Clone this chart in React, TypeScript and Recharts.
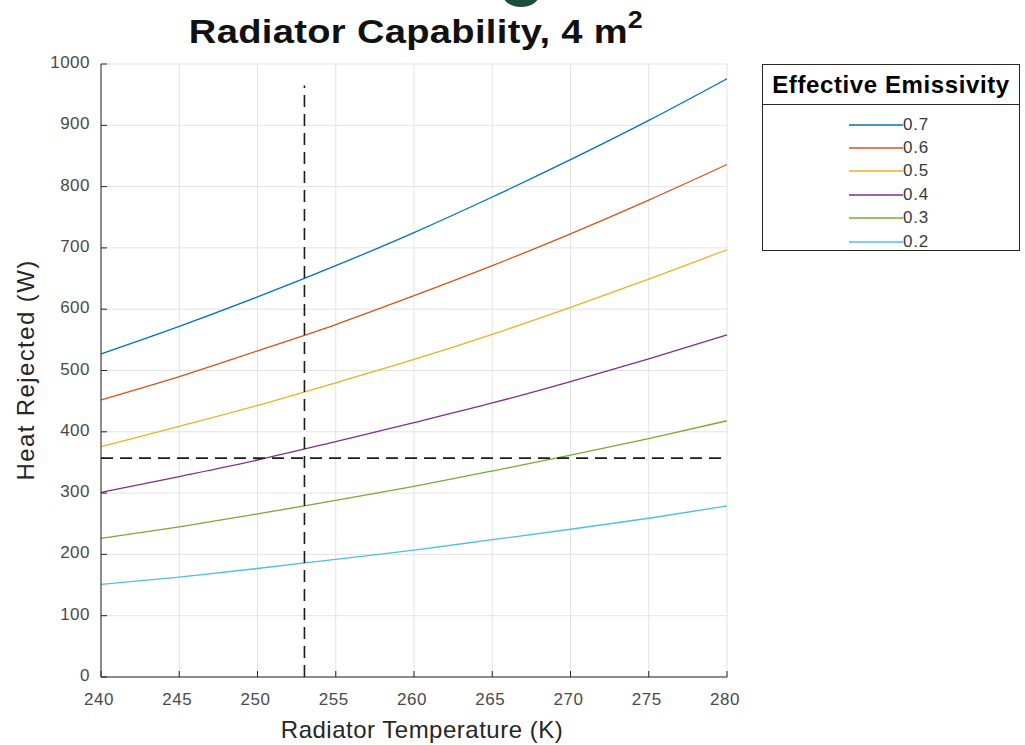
import React from 'react'
import {
  LineChart, Line, XAxis, YAxis, CartesianGrid, ReferenceLine,
} from 'recharts'

// radiator temperature (K)
const temps = [240, 245, 250, 255, 260, 265, 270, 275, 280]

// heat rejected (W), one list per emissivity
const e07 = [527, 572, 620, 671, 725, 783, 844, 908, 976]
const e06 = [452, 490, 532, 575, 622, 671, 723, 778, 836]
const e05 = [376, 409, 443, 480, 518, 559, 603, 649, 697]
const e04 = [301, 327, 354, 384, 415, 447, 482, 519, 558]
const e03 = [226, 245, 266, 288, 311, 336, 362, 389, 418]
const e02 = [151, 163, 177, 192, 207, 224, 241, 259, 279]

const emissivities = ['0.7', '0.6', '0.5', '0.4', '0.3', '0.2']
const seriesValues = [e07, e06, e05, e04, e03, e02]
const colors = ['#0072BD', '#D95319', '#EDB120', '#7E2F8E', '#77AC30', '#4DBEEE']

const xTicks = [240, 245, 250, 255, 260, 265, 270, 275, 280]
const yTicks = [0, 100, 200, 300, 400, 500, 600, 700, 800, 900, 1000]

// design point (dashed guides)
const designTemp = 253
const designHeat = 357
const guideTop = 965

const data = temps.map((t, i) => {
  const row: Record<string, number> = { T: t }
  emissivities.forEach((e, k) => { row[e] = seriesValues[k][i] })
  return row
})

const FONT = '"Liberation Sans", Arial, Helvetica, sans-serif'
const AXIS = '#262626'
const TICK_LEN = 6

const BottomTick = (props: any) => {
  const { x, y, payload } = props
  return (
    <g>
      <line x1={x} y1={y} x2={x} y2={y - TICK_LEN} stroke={AXIS} />
      <text x={x - 2} y={y + 28} textAnchor="middle" fontSize={17} letterSpacing={0.5}
        fill="#4a4a4a" fontFamily={FONT}>
        {payload.value}
      </text>
    </g>
  )
}

const TopTick = (props: any) => {
  const { x, y } = props
  return <line x1={x} y1={y} x2={x} y2={y + TICK_LEN} stroke={AXIS} />
}

const LeftTick = (props: any) => {
  const { x, y, payload } = props
  return (
    <g>
      <line x1={x} y1={y} x2={x + TICK_LEN} y2={y} stroke={AXIS} />
      <text x={x - 11} y={y + 4} textAnchor="end" fontSize={17} letterSpacing={0.5}
        fill="#4a4a4a" fontFamily={FONT}>
        {payload.value}
      </text>
    </g>
  )
}

const RightTick = (props: any) => {
  const { x, y } = props
  return <line x1={x} y1={y} x2={x - TICK_LEN} y2={y} stroke={AXIS} />
}

const LegendBox = () => (
  <div
    style={{
      position: 'absolute', left: 762, top: 64, width: 258, height: 187,
      border: '1px solid #262626', background: '#fff',
      fontFamily: FONT, boxSizing: 'border-box',
    }}
  >
    <div
      style={{
        fontWeight: 'bold', fontSize: 24, letterSpacing: 0.6, textAlign: 'center', color: '#000',
        height: 39, lineHeight: '39px', borderBottom: '1px solid #262626', whiteSpace: 'nowrap',
      }}
    >
      Effective Emissivity
    </div>
    <div style={{ paddingTop: 8 }}>
      {emissivities.map((e, k) => (
        <div key={e} style={{ display: 'flex', alignItems: 'center', height: 23.4, paddingLeft: 86 }}>
          <svg width={54} height={4}>
            <line x1={0} y1={2} x2={54} y2={2} stroke={colors[k]} strokeWidth={1.3} />
          </svg>
          <span style={{ fontSize: 17, letterSpacing: 0.8, color: '#3a3a3a' }}>{e}</span>
        </div>
      ))}
    </div>
  </div>
)

export default function App() {
  return (
    <div style={{ position: 'absolute', left: 0, top: 0, width: 1025, height: 745, background: '#fff' }}>
      {/* dark marker cut off at the top edge */}
      <svg width={1025} height={30} style={{ position: 'absolute', left: 0, top: 0 }}>
        <ellipse cx={521} cy={-7} rx={19} ry={14} fill="#1b4d3b" />
      </svg>

      <div
        style={{
          position: 'absolute', left: 0, width: 832, top: 12, textAlign: 'center',
          fontFamily: FONT, fontWeight: 'bold', fontSize: 34, letterSpacing: 0.3, color: '#111',
          whiteSpace: 'nowrap', transform: 'scaleX(1.12)', transformOrigin: '416px 0',
        }}
      >
        Radiator Capability, 4 m
        <span style={{ fontSize: 24, position: 'relative', top: -15 }}>2</span>
      </div>

      <LineChart
        width={1025}
        height={745}
        data={data}
        margin={{ top: 64, right: 298, left: 41, bottom: 38 }}
      >
        <CartesianGrid stroke="#e3e3e3" vertical horizontal />
        <XAxis
          dataKey="T"
          type="number"
          domain={[240, 280]}
          ticks={xTicks}
          interval={0}
          height={30}
          tickSize={0}
          tickMargin={0}
          axisLine={{ stroke: AXIS }}
          tickLine={false}
          tick={<BottomTick />}
        />
        <XAxis
          xAxisId="top"
          orientation="top"
          dataKey="T"
          type="number"
          domain={[240, 280]}
          ticks={xTicks}
          interval={0}
          height={0}
          tickSize={0}
          tickMargin={0}
          axisLine={{ stroke: AXIS }}
          tickLine={false}
          tick={<TopTick />}
        />
        <YAxis
          type="number"
          domain={[0, 1000]}
          ticks={yTicks}
          interval={0}
          width={60}
          tickSize={0}
          tickMargin={0}
          axisLine={{ stroke: AXIS }}
          tickLine={false}
          tick={<LeftTick />}
        />
        <YAxis
          yAxisId="right"
          orientation="right"
          type="number"
          domain={[0, 1000]}
          ticks={yTicks}
          interval={0}
          width={0}
          tickSize={0}
          tickMargin={0}
          axisLine={{ stroke: AXIS }}
          tickLine={false}
          tick={<RightTick />}
        />
        {emissivities.map((e, k) => (
          <Line
            key={e}
            type="monotone"
            dataKey={e}
            name={e}
            stroke={colors[k]}
            strokeWidth={1.3}
            dot={false}
            isAnimationActive={false}
          />
        ))}
        <ReferenceLine
          segment={[{ x: designTemp, y: 0 }, { x: designTemp, y: guideTop }]}
          stroke="#1a1a1a"
          strokeWidth={1.6}
          strokeDasharray="12 7"
        />
        <ReferenceLine
          y={designHeat}
          stroke="#1a1a1a"
          strokeWidth={1.6}
          strokeDasharray="12 7"
        />
      </LineChart>

      <LegendBox />

      <div
        style={{
          position: 'absolute', left: 109, width: 626, top: 716, textAlign: 'center',
          fontFamily: FONT, fontSize: 24, letterSpacing: 0.5, color: '#262626', whiteSpace: 'nowrap',
        }}
      >
        Radiator Temperature (K)
      </div>
      <div style={{ position: 'absolute', left: 26, top: 370, width: 0, height: 0 }}>
        <div
          style={{
            position: 'absolute', transform: 'translate(-50%, -50%) rotate(-90deg)',
            whiteSpace: 'nowrap', fontFamily: FONT, fontSize: 24, letterSpacing: 1.4, color: '#262626',
          }}
        >
          Heat Rejected (W)
        </div>
      </div>
    </div>
  )
}
